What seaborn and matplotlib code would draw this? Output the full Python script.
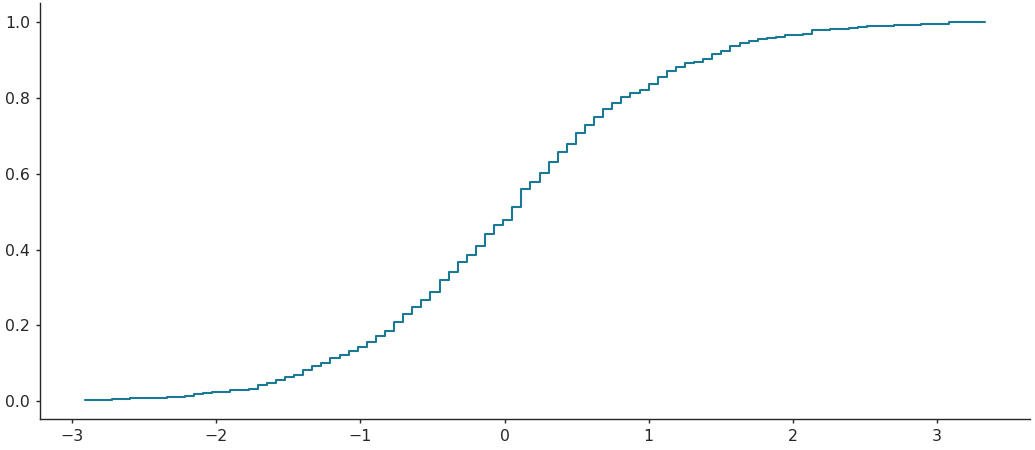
import numpy as np
import pandas as pd
import seaborn as sns
import matplotlib.pyplot as plt

# bin layout of the cumulative histogram
x_start = -2.912
x_stop = 3.335
n_bins = 99

# cumulative proportion at the right edge of each bin
cum_prop = [
    0.002, 0.002, 0.002, 0.005, 0.005, 0.009, 0.009, 0.009, 0.009, 0.011,
    0.011, 0.015, 0.018, 0.022, 0.025, 0.025, 0.030, 0.030, 0.032, 0.044,
    0.049, 0.057, 0.064, 0.070, 0.083, 0.093, 0.101, 0.113, 0.122, 0.133,
    0.143, 0.156, 0.172, 0.185, 0.209, 0.229, 0.249, 0.266, 0.287, 0.320,
    0.341, 0.367, 0.386, 0.410, 0.442, 0.465, 0.478, 0.513, 0.559, 0.579,
    0.601, 0.631, 0.656, 0.679, 0.708, 0.729, 0.750, 0.771, 0.787, 0.803,
    0.813, 0.821, 0.836, 0.856, 0.872, 0.882, 0.893, 0.895, 0.903, 0.915,
    0.924, 0.936, 0.945, 0.950, 0.954, 0.959, 0.961, 0.966, 0.966, 0.969,
    0.978, 0.980, 0.982, 0.982, 0.984, 0.987, 0.989, 0.989, 0.989, 0.992,
    0.992, 0.992, 0.994, 0.994, 0.994, 1.000, 1.000, 1.000, 1.000,
]

line_color = "#1a7a96"

edges = np.linspace(x_start, x_stop, n_bins + 1)
centers = (edges[:-1] + edges[1:]) / 2
weights = np.diff(np.concatenate([[0.0], cum_prop]))
df = pd.DataFrame({"x": centers, "w": weights})

sns.set_theme(style="ticks")
plt.rcParams["font.family"] = ["DejaVu Sans"]

fig = plt.figure(figsize=(10.35, 4.5), dpi=100)
ax = fig.add_axes([0.0386, 0.068, 0.9566, 0.9253])

sns.histplot(
    data=df, x="x", weights="w", bins=n_bins, binrange=(x_start, x_stop),
    cumulative=True, element="step", fill=False, stat="proportion",
    color=line_color, linewidth=1.5, ax=ax
)

ax.set_ylim(-0.048, 1.05)
ax.set_xlabel("")
ax.set_ylabel("")
ax.tick_params(labelsize=11.3, length=3.2, width=1, pad=4, colors="#262626")
for s in ["left", "bottom"]:
    ax.spines[s].set_linewidth(1)
    ax.spines[s].set_color("#262626")
sns.despine(ax=ax)

fig.savefig("out.png", dpi=100)
